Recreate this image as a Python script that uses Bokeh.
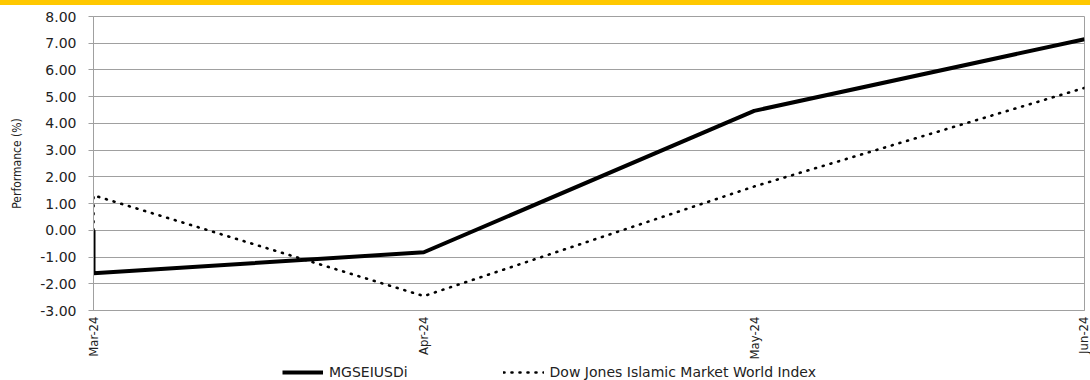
from bokeh.plotting import figure
from bokeh.models import Legend, LegendItem, FixedTicker, Div, Column, NumeralTickFormatter
from bokeh.embed import file_html
from bokeh.resources import INLINE
import math

# ---- data ----
months = ["Mar-24", "Apr-24", "May-24", "Jun-24"]
point_month = [0, 0, 1, 2, 3]          # first point is the base (0 %) at start
mgseiusdi = [0.0, -1.61, -0.82, 4.47, 7.15]
djim_world = [0.0, 1.31, -2.46, 1.64, 5.33]
y_ticks = [-3, -2, -1, 0, 1, 2, 3, 4, 5, 6, 7, 8]
series_names = ["MGSEIUSDi", "Dow Jones Islamic Market World Index"]

GRID = "#a0a0a0"
YELLOW = "#FFC800"
TXT = "#222222"
COND = "'DejaVu Sans Condensed', 'DejaVu Sans', sans-serif"

solid_style = dict(line_color="black", line_width=4)
dotted_style = dict(line_color="black", line_width=2.6, line_dash="1 7", line_cap="round")

band = Div(text="", width=1090, height=5, margin=0,
           styles={"background-color": YELLOW})

p = figure(width=1090, height=357, toolbar_location=None, output_backend="svg",
           x_range=(0, len(months) - 1), y_range=(y_ticks[0], y_ticks[-1]),
           min_border_left=93, min_border_right=6, min_border_top=11, min_border_bottom=50)

p.line(point_month, mgseiusdi, **solid_style)
p.line(point_month, djim_world, **dotted_style)

p.background_fill_color = "white"
p.outline_line_color = GRID
p.xgrid.visible = False
p.ygrid.grid_line_color = GRID
p.ygrid.grid_line_width = 1

# y axis
p.yaxis.ticker = FixedTicker(ticks=y_ticks)
p.yaxis.formatter = NumeralTickFormatter(format="0.00")
p.yaxis.axis_line_color = GRID
p.yaxis.major_tick_line_color = GRID
p.yaxis.major_tick_out = 5
p.yaxis.major_tick_in = 0
p.yaxis.minor_tick_line_color = None
p.yaxis.major_label_text_font = "DejaVu Sans"
p.yaxis.major_label_text_font_size = "14px"
p.yaxis.major_label_text_color = TXT
p.yaxis.major_label_standoff = 12
p.yaxis.axis_label = "Performance (%)"
p.yaxis.axis_label_text_font = COND
p.yaxis.axis_label_text_font_size = "12px"
p.yaxis.axis_label_text_font_style = "normal"
p.yaxis.axis_label_text_color = TXT
p.yaxis.axis_label_standoff = 13

# x axis
p.xaxis.ticker = FixedTicker(ticks=list(range(len(months))))
p.xaxis.major_label_overrides = {i: m for i, m in enumerate(months)}
p.xaxis.major_label_orientation = math.pi / 2
p.xaxis.axis_line_color = GRID
p.xaxis.major_tick_line_color = GRID
p.xaxis.major_tick_out = 0
p.xaxis.major_tick_in = 0
p.xaxis.minor_tick_line_color = None
p.xaxis.major_label_text_font = COND
p.xaxis.major_label_text_font_size = "13px"
p.xaxis.major_label_text_color = TXT
p.xaxis.major_label_standoff = 6

# legend strip (separate small figure under the chart; its ranges keep the
# series lines out of view so only the legend shows)
lg = figure(width=1090, height=18, toolbar_location=None, output_backend="svg",
            min_border=0, x_range=(0, len(months) - 1), y_range=(1000, 1001))
lg.axis.visible = False
lg.grid.visible = False
lg.outline_line_color = None
lg.background_fill_color = "white"
lg.border_fill_color = "white"
k1 = lg.line(point_month, mgseiusdi, **solid_style)
k2 = lg.line(point_month, djim_world, **dotted_style)

legend = Legend(items=[LegendItem(label=series_names[0], renderers=[k1]),
                       LegendItem(label=series_names[1], renderers=[k2])],
                orientation="horizontal", location=(189, 0),
                label_text_font="DejaVu Sans", label_text_font_size="14px",
                label_text_color=TXT,
                glyph_width=41, glyph_height=14, label_height=14,
                spacing=95, padding=0, margin=0, border_line_color=None,
                background_fill_alpha=0, label_standoff=6)
lg.add_layout(legend)

layout = Column(children=[band, p, lg], spacing=0)
open("out.html", "w").write(file_html(layout, INLINE))
